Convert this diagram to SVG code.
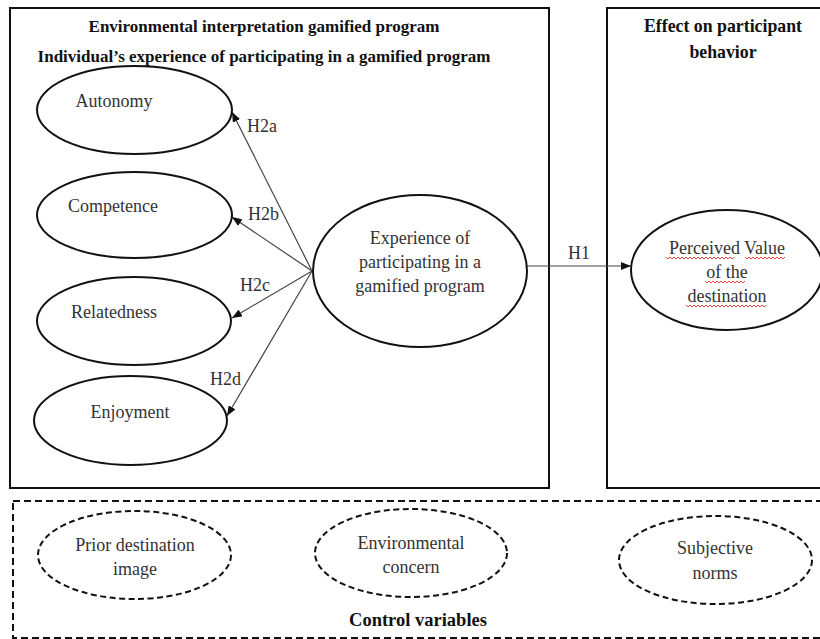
<svg xmlns="http://www.w3.org/2000/svg" width="820" height="639" viewBox="0 0 820 639">
<defs>
<style>
.box{fill:none;stroke:#111;stroke-width:2}
.dbox{fill:none;stroke:#111;stroke-width:2;stroke-dasharray:7,4}
.node{fill:#fff;stroke:#111;stroke-width:2}
.dnode{fill:#fff;stroke:#111;stroke-width:2;stroke-dasharray:6,3.5}
.t{font-family:"Liberation Serif","Times New Roman",serif;font-size:18px;fill:#333;text-anchor:middle}
.h{font-family:"Liberation Serif","Times New Roman",serif;font-size:18px;fill:#333}
.b{font-family:"Liberation Serif","Times New Roman",serif;font-weight:bold;fill:#111;text-anchor:middle}
.edge{stroke:#444;stroke-width:1.2;fill:none;marker-end:url(#ah)}
.sq{fill:none;stroke:#e03030;stroke-width:0.9}
</style>
<marker id="ah" viewBox="0 0 10 8" refX="10" refY="4" markerWidth="10" markerHeight="8" markerUnits="userSpaceOnUse" orient="auto">
<path d="M0,0 L10,4 L0,8 Z" fill="#111"/>
</marker>
</defs>
<rect width="820" height="639" fill="#fff"/>

<g id="frames">
<rect class="box" x="10" y="8" width="539" height="480"/>
<rect class="box" x="607" y="8" width="230" height="480"/>
<rect class="dbox" x="13" y="501" width="830" height="137"/>
<text class="b" x="264" y="32" font-size="17">Environmental interpretation gamified program</text>
<text class="b" x="264" y="62" font-size="17">Individual’s experience of participating in a gamified program</text>
<text class="b" x="723" y="32" font-size="17.8">Effect on participant</text>
<text class="b" x="723" y="58" font-size="17.8">behavior</text>
<text class="b" x="418" y="626" font-size="18.5">Control variables</text>
</g>

<g id="connectors">
<line class="edge" x1="312" y1="271" x2="232" y2="112"/>
<line class="edge" x1="312" y1="271" x2="232" y2="217"/>
<line class="edge" x1="312" y1="271" x2="232" y2="318"/>
<line class="edge" x1="312" y1="271" x2="227" y2="416"/>
<line class="edge" x1="520" y1="266" x2="631" y2="266"/>
<text class="h" x="247" y="132">H2a</text>
<text class="h" x="248" y="220">H2b</text>
<text class="h" x="240" y="291">H2c</text>
<text class="h" x="210" y="385">H2d</text>
<text class="h" x="568" y="259">H1</text>
</g>

<g id="autonomy">
<ellipse class="node" cx="134.5" cy="110" rx="97.5" ry="44"/>
<text class="t" x="114" y="107">Autonomy</text>
</g>
<g id="competence">
<ellipse class="node" cx="134.5" cy="215" rx="97.5" ry="43"/>
<text class="t" x="113" y="212">Competence</text>
</g>
<g id="relatedness">
<ellipse class="node" cx="134" cy="321" rx="97" ry="44"/>
<text class="t" x="114" y="318">Relatedness</text>
</g>
<g id="enjoyment">
<ellipse class="node" cx="130.5" cy="420.5" rx="96.5" ry="44.5"/>
<text class="t" x="130" y="418">Enjoyment</text>
</g>

<g id="experience">
<ellipse class="node" cx="420" cy="271" rx="107" ry="76"/>
<text class="t" x="420" y="244">Experience of</text>
<text class="t" x="420" y="268">participating in a</text>
<text class="t" x="420" y="292">gamified program</text>
</g>

<g id="perceived-value">
<ellipse class="node" cx="727" cy="270" rx="96" ry="60"/>
<text class="t" x="727" y="254">Perceived Value</text>
<text class="t" x="727" y="278">of the</text>
<text class="t" x="727" y="302">destination</text>
<path class="sq" d="M666,257 l2,2 l2,-2 l2,2 l2,-2 l2,2 l2,-2 l2,2 l2,-2 l2,2 l2,-2 l2,2 l2,-2 l2,2 l2,-2 l2,2 l2,-2 l2,2 l2,-2 l2,2 l2,-2 l2,2 l2,-2 l2,2 l2,-2 l2,2 l2,-2 l2,2 l2,-2 l2,2 l2,-2 l2,2 l2,-2 l2,2 l2,-2 M745,257 l2,2 l2,-2 l2,2 l2,-2 l2,2 l2,-2 l2,2 l2,-2 l2,2 l2,-2 l2,2 l2,-2 l2,2 l2,-2 l2,2 l2,-2 l2,2 l2,-2 l2,2 l2,-2 M705,281 l2,2 l2,-2 l2,2 l2,-2 l2,2 l2,-2 l2,2 l2,-2 l2,2 l2,-2 l2,2 l2,-2 l2,2 l2,-2 l2,2 l2,-2 l2,2 l2,-2 l2,2 l2,-2 M686,305 l2,2 l2,-2 l2,2 l2,-2 l2,2 l2,-2 l2,2 l2,-2 l2,2 l2,-2 l2,2 l2,-2 l2,2 l2,-2 l2,2 l2,-2 l2,2 l2,-2 l2,2 l2,-2 l2,2 l2,-2 l2,2 l2,-2 l2,2 l2,-2 l2,2 l2,-2 l2,2 l2,-2 l2,2 l2,-2 l2,2 l2,-2 l2,2 l2,-2 l2,2 l2,-2 l2,2 l2,-2"/>
</g>

<g id="prior-destination-image">
<ellipse class="dnode" cx="134.5" cy="555" rx="96.5" ry="44"/>
<text class="t" x="135" y="551">Prior destination</text>
<text class="t" x="135" y="575">image</text>
</g>
<g id="environmental-concern">
<ellipse class="dnode" cx="411" cy="553" rx="96" ry="44"/>
<text class="t" x="411" y="549">Environmental</text>
<text class="t" x="411" y="573">concern</text>
</g>
<g id="subjective-norms">
<ellipse class="dnode" cx="715.5" cy="560" rx="96.5" ry="44"/>
<text class="t" x="715" y="554">Subjective</text>
<text class="t" x="715" y="579">norms</text>
</g>
</svg>
